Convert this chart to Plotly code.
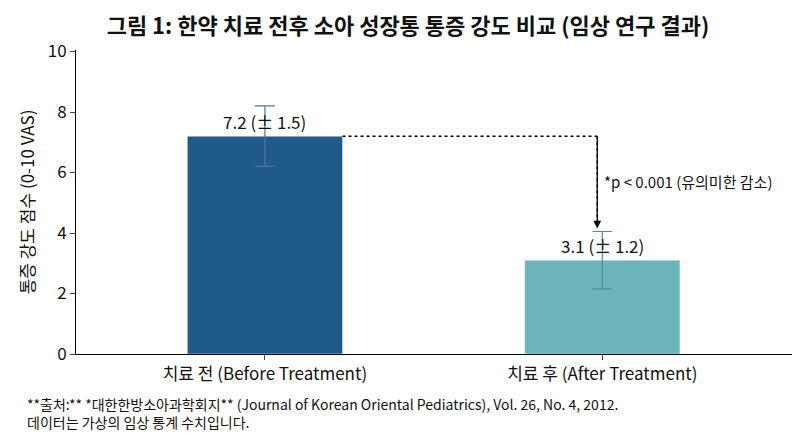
import plotly.graph_objects as go

categories = ["치료 전 (Before Treatment)", "치료 후 (After Treatment)"]
means = [7.2, 3.1]
errors = [1.0, 0.95]
labels = ["7.2 (± 1.5)", "3.1 (± 1.2)"]
colors = ["#1f5a8a", "#6ab4ba"]
err_colors = ["#4f7898", "#4f8f98"]

FONT = "Noto Sans CJK KR"

fig = go.Figure()
for i in range(2):
    fig.add_trace(go.Bar(
        x=[i], y=[means[i]], width=0.46,
        marker=dict(color=colors[i]),
        error_y=dict(type="data", array=[errors[i]], color=err_colors[i], thickness=1.2, width=10),
        showlegend=False,
    ))
    fig.add_annotation(x=i, y=means[i], text=labels[i], showarrow=False,
                       yanchor="bottom", yshift=0, font=dict(size=17, color="#111"))

# significance bracket
fig.add_shape(type="line", x0=0.23, x1=0.985, y0=means[0], y1=means[0], xref="x", yref="y",
              line=dict(color="black", width=1.5, dash="dot"))
fig.add_annotation(x=0.985, y=4.15, ax=0.985, ay=means[0], xref="x", yref="y", axref="x", ayref="y",
                   showarrow=True, arrowhead=2, arrowsize=1.2, arrowwidth=1.3, arrowcolor="black", text="")
fig.add_shape(type="line", x0=0.985, x1=0.985, y0=means[0], y1=4.3, xref="x", yref="y",
              line=dict(color="black", width=1.5, dash="dot"))
fig.add_annotation(x=1.0, y=5.7, xref="x", yref="y", text="*p < 0.001 (유의미한 감소)",
                   showarrow=False, xanchor="left", font=dict(size=15, color="#111"))

fig.add_annotation(xref="paper", yref="paper", x=-0.07, y=-0.125, xanchor="left", yanchor="top",
                   align="left", showarrow=False, font=dict(size=14, color="#111"),
                   text="**출처:** *대한한방소아과학회지** (Journal of Korean Oriental Pediatrics), Vol. 26, No. 4, 2012.<br>데이터는 가상의 임상 통계 수치입니다.")

fig.update_layout(
    width=800, height=436,
    plot_bgcolor="white", paper_bgcolor="white",
    font=dict(family=FONT, color="#111"),
    title=dict(text="<b>그림 1: 한약 치료 전후 소아 성장통 통증 강도 비교 (임상 연구 결과)</b>",
               x=0.5, y=0.975, font=dict(size=22)),
    margin=dict(l=68, r=10, t=42, b=90),
)
fig.update_xaxes(range=[-0.56, 1.58], tickvals=[0, 1], ticktext=categories,
                 showline=True, linecolor="black", ticks="outside", tickfont=dict(size=17))
fig.update_yaxes(range=[0, 10.05], dtick=2, showline=True, linecolor="black", ticks="outside",
                 showgrid=False, zeroline=False, tickfont=dict(size=17),
                 title=dict(text="통증 강도 점수 (0-10 VAS)", font=dict(size=17), standoff=8))

fig.write_html("out.html")
